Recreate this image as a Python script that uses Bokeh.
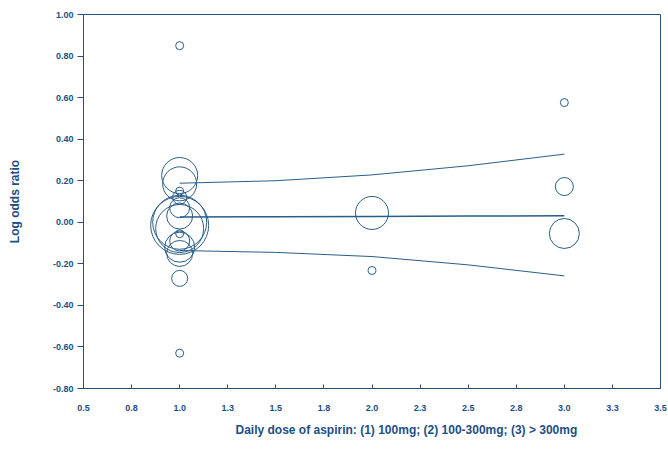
from bokeh.plotting import figure
from bokeh.models import ColumnDataSource, FixedTicker, NumeralTickFormatter, Title, Range1d
from bokeh.embed import file_html
from bokeh.resources import INLINE

# ---- data ----
dose = [1, 1, 1, 1, 1, 1, 1, 1, 1, 1, 1, 1, 1, 1, 1, 1,
        2, 2,
        3, 3, 3]
log_or = [0.85, 0.225, 0.185, 0.15, 0.12, 0.07, 0.03, -0.015, 0.00, -0.03,
          -0.055, -0.09, -0.12, -0.15, -0.27, -0.63,
          0.045, -0.232,
          0.576, 0.172, -0.054]
weight = [4, 18, 17, 4, 7, 10, 13, 29, 27, 24, 4, 10, 15, 13, 8, 4,
          16.5, 4,
          4, 9, 15]

fit_x = [1.0, 1.5, 2.0, 2.5, 3.0]
fit_mid = [0.025, 0.027, 0.028, 0.030, 0.031]
fit_upper = [0.188, 0.200, 0.228, 0.272, 0.328]
fit_lower = [-0.136, -0.145, -0.165, -0.205, -0.258]

x_ticks = [0.5, 0.75, 1.0, 1.25, 1.5, 1.75, 2.0, 2.25, 2.5, 2.75, 3.0, 3.25, 3.5]
x_tick_labels = ["0.5", "0.8", "1.0", "1.3", "1.5", "1.8", "2.0", "2.3", "2.5", "2.8", "3.0", "3.3", "3.5"]
y_ticks = [-0.8, -0.6, -0.4, -0.2, 0.0, 0.2, 0.4, 0.6, 0.8, 1.0]

BLUE = "#1d4f84"
LINE = "#2b5d88"
AXIS = "#2a4f75"

p = figure(width=668, height=461, output_backend="svg", toolbar_location=None,
           x_range=Range1d(0.5, 3.5), y_range=Range1d(-0.8, 1.0),
           min_border_left=83, min_border_right=8, min_border_top=14, min_border_bottom=73)
p.background_fill_color = "white"
p.border_fill_color = "white"
p.outline_line_color = AXIS
p.outline_line_width = 1
p.grid.visible = False

src = ColumnDataSource(dict(x=dose, y=log_or, d=[2 * w for w in weight]))
p.scatter("x", "y", size="d", source=src, marker="circle", fill_color=None,
          line_color=LINE, line_width=1)

p.line(fit_x, fit_mid, line_color=LINE, line_width=1.5)
p.line(fit_x, fit_upper, line_color=LINE, line_width=1)
p.line(fit_x, fit_lower, line_color=LINE, line_width=1)

# axes
xa = p.xaxis[0]
xa.ticker = FixedTicker(ticks=x_ticks)
xa.major_label_overrides = {t: l for t, l in zip(x_ticks, x_tick_labels)}
xa.major_tick_in = 4
xa.major_tick_out = 0
xa.minor_tick_line_color = None
xa.major_label_standoff = 16
xa.axis_line_color = AXIS
xa.major_tick_line_color = AXIS
xa.major_label_text_font = "Liberation Sans"
xa.major_label_text_font_style = "bold"
xa.major_label_text_font_size = "9px"
xa.major_label_text_color = BLUE

ya = p.yaxis[0]
ya.ticker = FixedTicker(ticks=y_ticks)
ya.formatter = NumeralTickFormatter(format="0.00")
ya.major_tick_in = 0
ya.major_tick_out = 6
ya.minor_tick_line_color = None
ya.major_label_standoff = 4
ya.axis_line_color = AXIS
ya.major_tick_line_color = AXIS
ya.major_label_text_font = "Liberation Sans"
ya.major_label_text_font_style = "bold"
ya.major_label_text_font_size = "9px"
ya.major_label_text_color = BLUE
ya.axis_label = "Log odds ratio"
ya.axis_label_text_font = "Liberation Sans"
ya.axis_label_text_font_style = "bold"
ya.axis_label_text_font_size = "12px"
ya.axis_label_text_color = BLUE
ya.axis_label_standoff = 28

p.add_layout(Title(text="Daily dose of aspirin: (1)  100mg; (2) 100-300mg; (3) > 300mg",
                   align="left", offset=152, text_font="Liberation Sans",
                   text_font_style="bold", text_font_size="12px", text_color=BLUE,
                   standoff=14), "below")

open("out.html", "w").write(file_html(p, INLINE))
